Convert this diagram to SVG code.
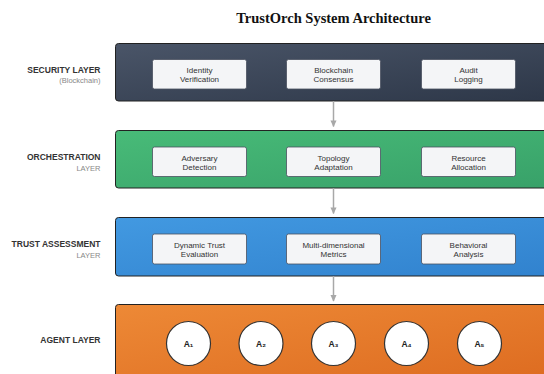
<svg xmlns="http://www.w3.org/2000/svg" width="544" height="374" viewBox="0 0 544 374">
  <defs>
    <linearGradient id="gSec" x1="0" y1="0" x2="1" y2="1">
      <stop offset="0" stop-color="#4a5568"/>
      <stop offset="1" stop-color="#2d3748"/>
    </linearGradient>
    <linearGradient id="gOrc" x1="0" y1="0" x2="1" y2="1">
      <stop offset="0" stop-color="#48bb78"/>
      <stop offset="1" stop-color="#38a169"/>
    </linearGradient>
    <linearGradient id="gTru" x1="0" y1="0" x2="1" y2="1">
      <stop offset="0" stop-color="#4299e1"/>
      <stop offset="1" stop-color="#3182ce"/>
    </linearGradient>
    <linearGradient id="gAg" x1="0" y1="0" x2="1" y2="1">
      <stop offset="0" stop-color="#ed8936"/>
      <stop offset="1" stop-color="#dd6b20"/>
    </linearGradient>
    <marker id="arrow" viewBox="0 0 10 10" refX="9" refY="5" markerWidth="4.5" markerHeight="4.5" orient="auto">
      <path d="M0,0.5 L10,5 L0,9.5 Z" fill="#a8a8a8"/>
    </marker>
  </defs>
  <style>
    .title { font-family: "Liberation Serif", "Times New Roman", serif; font-weight: bold; font-size: 14.5px; fill: #111; }
    .layer { font-family: "Liberation Sans", Arial, sans-serif; font-weight: bold; font-size: 8.5px; fill: #333; text-anchor: end; }
    .sub { font-family: "Liberation Sans", Arial, sans-serif; font-size: 7.5px; fill: #888; text-anchor: end; }
    .panel { stroke: #222; stroke-width: 1; }
    .box { fill: #f4f5f7; stroke: #4a5060; stroke-width: 0.8; }
    .boxt { font-family: "Liberation Sans", Arial, sans-serif; font-size: 8px; fill: #333; text-anchor: middle; }
    .agent { fill: #fff; stroke: #333; stroke-width: 1.2; }
    .agentt { font-family: "Liberation Sans", Arial, sans-serif; font-weight: bold; font-size: 8.5px; fill: #222; text-anchor: middle; }
    .conn { stroke: #a8a8a8; stroke-width: 1.5; fill: none; }
  </style>

  <rect width="544" height="374" fill="#ffffff"/>

  <text class="title" x="333.5" y="23" text-anchor="middle">TrustOrch System Architecture</text>

  <!-- Security layer -->
  <g id="security-layer">
    <text class="layer" x="100.5" y="72.5">SECURITY LAYER</text>
    <text class="sub" x="100.5" y="83">(Blockchain)</text>
    <rect class="panel" x="115.5" y="43.5" width="436" height="57.5" rx="3" fill="url(#gSec)"/>
    <g id="identity-verification">
      <rect class="box" x="152.5" y="59.5" width="94" height="29.5" rx="2"/>
      <text class="boxt" x="199.5" y="73">Identity</text>
      <text class="boxt" x="199.5" y="82.4">Verification</text>
    </g>
    <g id="blockchain-consensus">
      <rect class="box" x="286.5" y="59.5" width="94" height="29.5" rx="2"/>
      <text class="boxt" x="333.5" y="73">Blockchain</text>
      <text class="boxt" x="333.5" y="82.4">Consensus</text>
    </g>
    <g id="audit-logging">
      <rect class="box" x="421.5" y="59.5" width="94" height="29.5" rx="2"/>
      <text class="boxt" x="468.5" y="73">Audit</text>
      <text class="boxt" x="468.5" y="82.4">Logging</text>
    </g>
  </g>

  <!-- Orchestration layer -->
  <g id="orchestration-layer">
    <text class="layer" x="100.5" y="160">ORCHESTRATION</text>
    <text class="sub" x="100.5" y="171">LAYER</text>
    <rect class="panel" x="115.5" y="130.5" width="436" height="57.5" rx="3" fill="url(#gOrc)"/>
    <g id="adversary-detection">
      <rect class="box" x="152.5" y="147" width="94" height="29.5" rx="2"/>
      <text class="boxt" x="199.5" y="160.5">Adversary</text>
      <text class="boxt" x="199.5" y="169.9">Detection</text>
    </g>
    <g id="topology-adaptation">
      <rect class="box" x="286.5" y="147" width="94" height="29.5" rx="2"/>
      <text class="boxt" x="333.5" y="160.5">Topology</text>
      <text class="boxt" x="333.5" y="169.9">Adaptation</text>
    </g>
    <g id="resource-allocation">
      <rect class="box" x="421.5" y="147" width="94" height="29.5" rx="2"/>
      <text class="boxt" x="468.5" y="160.5">Resource</text>
      <text class="boxt" x="468.5" y="169.9">Allocation</text>
    </g>
  </g>

  <!-- Trust assessment layer -->
  <g id="trust-assessment-layer">
    <text class="layer" x="100.5" y="247">TRUST ASSESSMENT</text>
    <text class="sub" x="100.5" y="258">LAYER</text>
    <rect class="panel" x="115.5" y="217.5" width="436" height="58.5" rx="3" fill="url(#gTru)"/>
    <g id="dynamic-trust-evaluation">
      <rect class="box" x="152.5" y="234" width="94" height="30" rx="2"/>
      <text class="boxt" x="199.5" y="247.8">Dynamic Trust</text>
      <text class="boxt" x="199.5" y="257.2">Evaluation</text>
    </g>
    <g id="multidimensional-metrics">
      <rect class="box" x="286.5" y="234" width="94" height="30" rx="2"/>
      <text class="boxt" x="333.5" y="247.8">Multi-dimensional</text>
      <text class="boxt" x="333.5" y="257.2">Metrics</text>
    </g>
    <g id="behavioral-analysis">
      <rect class="box" x="421.5" y="234" width="94" height="30" rx="2"/>
      <text class="boxt" x="468.5" y="247.8">Behavioral</text>
      <text class="boxt" x="468.5" y="257.2">Analysis</text>
    </g>
  </g>

  <!-- Agent layer -->
  <g id="agent-layer">
    <text class="layer" x="100.5" y="342.5">AGENT LAYER</text>
    <rect class="panel" x="115.5" y="304.5" width="436" height="80" rx="3" fill="url(#gAg)"/>
    <g id="agent-1"><circle class="agent" cx="188.5" cy="343.5" r="22"/><text class="agentt" x="188.5" y="346.5">A₁</text></g>
    <g id="agent-2"><circle class="agent" cx="261" cy="343.5" r="22"/><text class="agentt" x="261" y="346.5">A₂</text></g>
    <g id="agent-3"><circle class="agent" cx="333.5" cy="343.5" r="22"/><text class="agentt" x="333.5" y="346.5">A₃</text></g>
    <g id="agent-4"><circle class="agent" cx="406.5" cy="343.5" r="22"/><text class="agentt" x="406.5" y="346.5">A₄</text></g>
    <g id="agent-5"><circle class="agent" cx="479.5" cy="343.5" r="22"/><text class="agentt" x="479.5" y="346.5">A₅</text></g>
  </g>

  <!-- Connectors between layers -->
  <g id="connectors">
    <line class="conn" x1="333.5" y1="101" x2="333.5" y2="126.5" marker-end="url(#arrow)"/>
    <line class="conn" x1="333.5" y1="188" x2="333.5" y2="213.5" marker-end="url(#arrow)"/>
    <line class="conn" x1="333.5" y1="276" x2="333.5" y2="301" marker-end="url(#arrow)"/>
  </g>
</svg>
